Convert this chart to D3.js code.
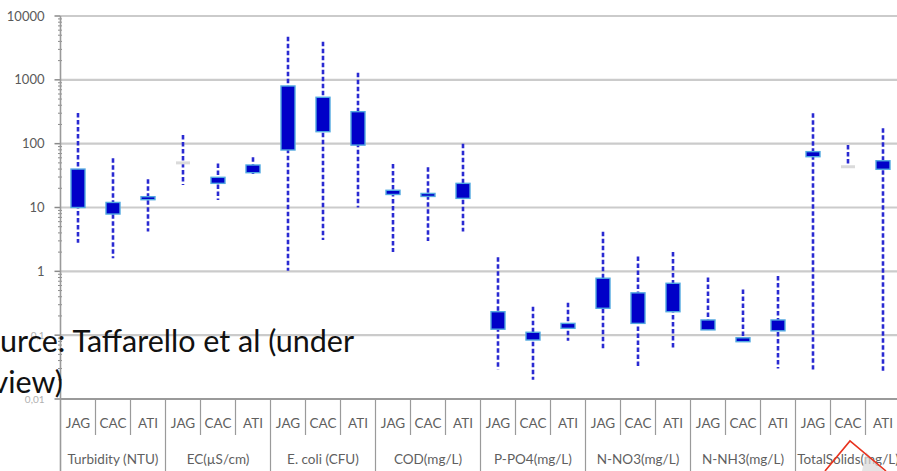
<!DOCTYPE html>
<html>
<head>
<meta charset="utf-8">
<script src="https://cdn.jsdelivr.net/npm/d3@7"></script>
<style>
  html, body { margin: 0; padding: 0; background: #fff; }
  svg { display: block; }
</style>
</head>
<body>
<svg id="chart" width="897" height="471"></svg>
<script>
// Water quality parameters per site (log scale box plots)
const groups = ["Turbidity (NTU)", "EC(µS/cm)", "E. coli (CFU)", "COD(mg/L)",
                "P-PO4(mg/L)", "N-NO3(mg/L)", "N-NH3(mg/L)", "TotalSolids(mg/L)"];
const sites = ["JAG", "CAC", "ATI"];

const whiskerHigh = [302, 59, 27.7,   137, 49, 61,   4740, 3960, 1295,   48, 42.7, 100,
                     1.66, 0.279, 0.323,   4.18, 1.70, 2.0,   0.80, 0.52, 0.845,   299, 95, 174];
const q3 = [40, 12, 14.5,   51, 29.7, 46.3,   801, 533, 317,   18.6, 16.5, 23.9,
            0.233, 0.111, 0.153,   0.78, 0.46, 0.65,   0.173, 0.091, 0.173,   75, 44.5, 54];
const q1 = [10, 7.9, 13.5,   49, 23.9, 35.1,   79.6, 154, 95,   16, 15, 13.9,
            0.124, 0.084, 0.128,   0.264, 0.153, 0.233,   0.121, 0.079, 0.117,   62.5, 42.5, 39.7];
const whiskerLow = [2.8, 1.6, 4.2,   22.5, 13.1, 33.5,   1.02, 3.1, 10,   2.0, 3.0, 4.2,
                    0.029, 0.020, 0.082,   0.059, 0.030, 0.059,   0.121, 0.079, 0.030,   0.029, 42.5, 0.027];

const yTickValues = [0.01, 0.1, 1, 10, 100, 1000, 10000];
const yTickLabels = ["0,01", "0,1", "1", "10", "100", "1000", "10000"];

const sourceLines = ["Source: Taffarello et al (under", "review)"];

// boxes drawn as pale placeholders
const paleBoxes = new Set(["EC(µS/cm)|JAG", "TotalSolids(mg/L)|CAC"]);

const rows = [];
groups.forEach((g, gi) => sites.forEach((s, si) => {
  const i = gi * sites.length + si;
  rows.push({ key: g + "|" + s, group: g, site: s,
              hi: whiskerHigh[i], q3: q3[i], q1: q1[i], lo: whiskerLow[i] });
}));

const svg = d3.select("#chart");
const font = "Lato, 'Open Sans', sans-serif";

const plotLeft = 60.5, plotRight = 900.5, plotTop = 16, plotBottom = 399;

const x = d3.scaleBand().domain(rows.map(d => d.key)).range([plotLeft, plotRight]).padding(0);
const xg = d3.scaleBand().domain(groups).range([plotLeft, plotRight]).padding(0);
const y = d3.scaleLog().domain([0.01, 10000]).range([plotBottom, plotTop]);

// gridlines
svg.append("g").selectAll("line").data(yTickValues.slice(1)).join("line")
  .attr("x1", plotLeft).attr("x2", 897)
  .attr("y1", d => y(d)).attr("y2", d => y(d))
  .attr("stroke", "#cbcbcb").attr("stroke-width", 2.2);

// y axis with minor log ticks
const yAxisG = svg.append("g").attr("transform", `translate(${plotLeft},0)`);
const minor = y.ticks().filter(v => !yTickValues.includes(v));
yAxisG.selectAll("line.minor").data(minor).join("line").attr("class", "minor")
  .attr("x1", -2.5).attr("x2", 1.5).attr("y1", d => y(d)).attr("y2", d => y(d))
  .attr("stroke", "#8a8a8a").attr("stroke-width", 1);
yAxisG.selectAll("line.major").data(yTickValues).join("line").attr("class", "major")
  .attr("x1", -6).attr("x2", 0).attr("y1", d => y(d)).attr("y2", d => y(d))
  .attr("stroke", "#8a8a8a").attr("stroke-width", 1.5);
yAxisG.append("line").attr("x1", 0).attr("x2", 0).attr("y1", plotTop).attr("y2", 471)
  .attr("stroke", "#9a9a9a").attr("stroke-width", 1.6);
yAxisG.selectAll("text").data(yTickValues).join("text")
  .attr("x", -16).attr("y", d => y(d)).attr("dy", "0.35em")
  .attr("text-anchor", "end")
  .attr("font-family", font)
  .attr("font-size", d => d < 1 ? 10 : 13)
  .attr("fill", d => d < 1 ? "#b0b0b0" : "#5a5a5a")
  .text((d, i) => yTickLabels[i]);

// x axis line and category table
svg.append("line").attr("x1", plotLeft).attr("x2", 897).attr("y1", plotBottom).attr("y2", plotBottom)
  .attr("stroke", "#9a9a9a").attr("stroke-width", 2.2);

const table = svg.append("g");
table.selectAll("line.sep").data(rows.filter(d => d.site !== sites[0])).join("line").attr("class", "sep")
  .attr("x1", d => x(d.key)).attr("x2", d => x(d.key))
  .attr("y1", plotBottom).attr("y2", 435)
  .attr("stroke", "#9a9a9a").attr("stroke-width", 1.2);
table.selectAll("line.gsep").data(groups.slice(1)).join("line").attr("class", "gsep")
  .attr("x1", d => xg(d)).attr("x2", d => xg(d))
  .attr("y1", plotBottom).attr("y2", 471)
  .attr("stroke", "#9a9a9a").attr("stroke-width", 1.2);
table.selectAll("text.site").data(rows).join("text").attr("class", "site")
  .attr("x", d => x(d.key) + x.bandwidth() / 2).attr("y", 423).attr("dy", "0.35em")
  .attr("text-anchor", "middle").attr("font-family", font).attr("font-size", 13.5)
  .attr("fill", "#5f5f5f").text(d => d.site);
table.selectAll("text.group").data(groups).join("text").attr("class", "group")
  .attr("x", d => xg(d) + xg.bandwidth() / 2).attr("y", 459).attr("dy", "0.35em")
  .attr("text-anchor", "middle").attr("font-family", font).attr("font-size", 13.5)
  .attr("fill", "#5f5f5f").text(d => d);

// whiskers
const boxW = 14;
const marks = svg.append("g");
marks.selectAll("line.whisker").data(rows.filter(d => d.hi > d.lo)).join("line").attr("class", "whisker")
  .attr("x1", d => x(d.key) + x.bandwidth() / 2).attr("x2", d => x(d.key) + x.bandwidth() / 2)
  .attr("y1", d => y(d.hi)).attr("y2", d => y(d.lo))
  .attr("stroke", "#2a2ad2").attr("stroke-width", 2.6).attr("stroke-dasharray", "4.5 2.5");

// boxes
marks.selectAll("rect.box").data(rows).join("rect").attr("class", "box")
  .attr("x", d => x(d.key) + x.bandwidth() / 2 - boxW / 2)
  .attr("width", boxW)
  .attr("y", d => {
    const h = y(d.q1) - y(d.q3);
    return h < 3 ? (y(d.q1) + y(d.q3)) / 2 - 1.5 : y(d.q3);
  })
  .attr("height", d => Math.max(y(d.q1) - y(d.q3), 3))
  .attr("fill", d => paleBoxes.has(d.key) ? "#dadada" : "#0000c8")
  .attr("stroke", d => paleBoxes.has(d.key) ? "none" : "#52a8e0")
  .attr("stroke-width", 1.4);

// source note overlaid on the lower left, running off the left edge
const noteSize = 30.5;
const note = svg.append("g");
const measure = note.append("text").attr("font-family", font).attr("font-size", noteSize).text("So");
const offset = measure.node().getComputedTextLength();
measure.remove();
note.selectAll("text").data(sourceLines).join("text")
  .attr("x", -offset).attr("y", (d, i) => 352 + i * 41)
  .attr("font-family", font).attr("font-size", noteSize).attr("fill", "#111")
  .text(d => d);

// red marker lines at the bottom right
svg.append("polygon")
  .attr("points", "862,471 866,452 884,471")
  .attr("fill", "#d8d8d8").attr("opacity", 0.7);
svg.append("polyline")
  .attr("points", "825,471 850,441 886,471")
  .attr("fill", "none").attr("stroke", "#e8321e").attr("stroke-width", 1.6);
</script>
</body>
</html>
